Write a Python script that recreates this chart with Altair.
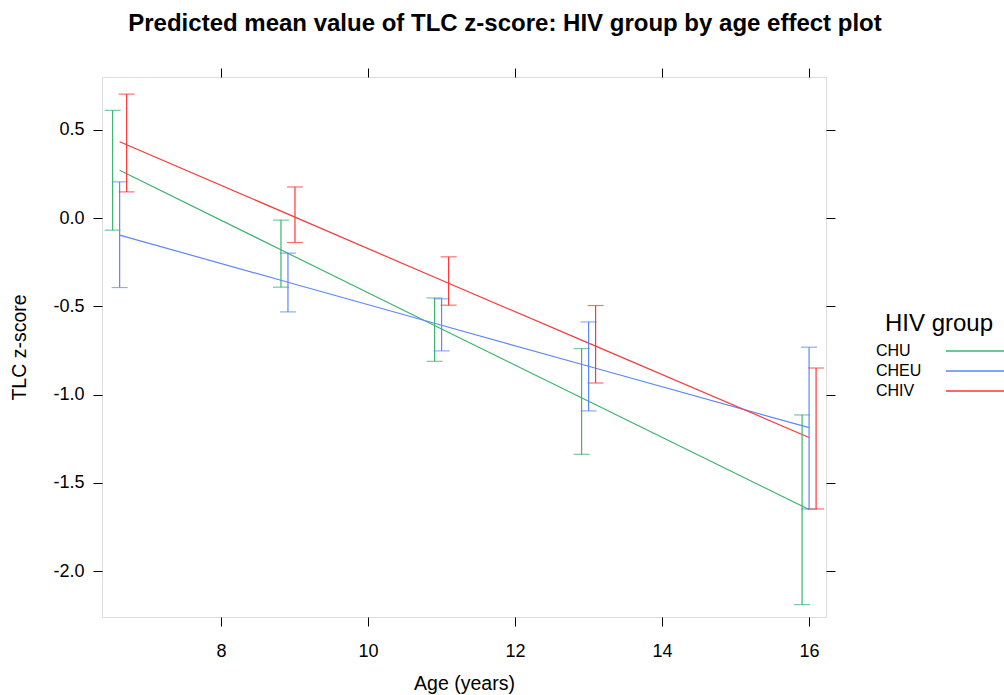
import altair as alt
import pandas as pd

groups = ["CHU", "CHEU", "CHIV"]
colors = ["#3cb46e", "#5c86ff", "#ff3636"]
ages = [6.62, 8.91, 11.0, 13.0, 16.0]

fit = {
    "CHU": [0.272, -0.199, -0.628, -1.037, -1.651],
    "CHEU": [-0.096, -0.363, -0.607, -0.839, -1.187],
    "CHIV": [0.433, 0.023, -0.352, -0.708, -1.243],
}
lower = {
    "CHU": [-0.068, -0.391, -0.811, -1.338, -2.190],
    "CHEU": [-0.393, -0.531, -0.752, -1.092, -1.648],
    "CHIV": [0.149, -0.138, -0.493, -0.934, -1.648],
}
upper = {
    "CHU": [0.611, -0.011, -0.452, -0.739, -1.115],
    "CHEU": [0.206, -0.198, -0.457, -0.588, -0.731],
    "CHIV": [0.703, 0.177, -0.219, -0.495, -0.849],
}
x_ticks = [8, 10, 12, 14, 16]
y_ticks = [0.5, 0.0, -0.5, -1.0, -1.5, -2.0]
dodge_px = {"CHU": -7, "CHEU": 0, "CHIV": 7}

rows = []
for g in groups:
    for i, a in enumerate(ages):
        rows.append({"group": g, "age": a, "fit": fit[g][i],
                     "lower": lower[g][i], "upper": upper[g][i]})
df = pd.DataFrame(rows)

xscale = alt.Scale(domain=[6.38, 16.23], nice=False, zero=False)
yscale = alt.Scale(domain=[-2.26, 0.80], nice=False, zero=False)
cscale = alt.Scale(domain=groups, range=colors)

FONT = "Liberation Sans"
axis_common = dict(domain=False, grid=False, ticks=True, tickSize=9,
                   tickColor="#000000", tickWidth=1,
                   labelFont=FONT, labelFontSize=18,
                   labelColor="#000000", titleFont=FONT,
                   titleFontSize=19.5, titleFontWeight="normal",
                   titleColor="#000000")

y_label_expr = ("datum.value < 0 ? '-' + format(-datum.value, '.1f') "
                ": format(datum.value, '.1f')")

x_bottom = alt.Axis(orient="bottom", values=x_ticks, format="d",
                    title="Age (years)", labelPadding=16, titlePadding=14,
                    **axis_common)
y_left = alt.Axis(orient="left", values=y_ticks, labelExpr=y_label_expr,
                  title="TLC z-score", labelPadding=9, titlePadding=23,
                  **axis_common)
x_top = alt.Axis(orient="top", values=x_ticks, labels=False, title=None,
                 **axis_common)
y_right = alt.Axis(orient="right", values=y_ticks, labels=False, title=None,
                   **axis_common)

base = alt.Chart(df)

lines = base.mark_line(strokeWidth=1.2, clip=True).encode(
    x=alt.X("age:Q", scale=xscale, axis=x_bottom),
    y=alt.Y("fit:Q", scale=yscale, axis=y_left),
    color=alt.Color(
        "group:N", scale=cscale, sort=groups,
        legend=alt.Legend(
            title="HIV group", orient="none", legendX=783, legendY=235,
            titleFont=FONT, titleFontSize=24,
            titleFontWeight="normal", titleColor="#000000",
            titlePadding=7, labelFont=FONT, labelFontSize=16,
            labelColor="#000000", symbolType="M10.6,0H22.2", symbolSize=100,
            symbolStrokeWidth=1.3, rowPadding=4, padding=0,
            labelOffset={"expr": "-25"},
        ),
    ),
)

layers = [lines]
first = True
for g in groups:
    sub = base.transform_filter(alt.datum.group == g)
    if first:
        xa, ya = x_top, y_right
        first = False
    else:
        xa, ya = None, None
    rule = sub.mark_rule(strokeWidth=1.2, xOffset=dodge_px[g]).encode(
        x=alt.X("age:Q", scale=xscale, axis=xa),
        y=alt.Y("lower:Q", scale=yscale, axis=ya),
        y2="upper:Q",
        color=alt.Color("group:N", scale=cscale, legend=None),
    )
    caps = sub.transform_fold(["lower", "upper"], as_=["bound", "val"]).mark_tick(
        orient="horizontal", size=16, thickness=1.2, xOffset=dodge_px[g]
    ).encode(
        x=alt.X("age:Q", scale=xscale, axis=None),
        y=alt.Y("val:Q", scale=yscale, axis=None),
        color=alt.Color("group:N", scale=cscale, legend=None),
    )
    layers += [rule, caps]

chart = alt.layer(*layers).resolve_axis(
    x="independent", y="independent"
).properties(
    width=724, height=540,
    autosize=alt.AutoSizeParams(type="none"),
    padding={"left": 102, "top": 77, "right": 178, "bottom": 78},
    title=alt.TitleParams(
        "Predicted mean value of TLC z-score: HIV group by age effect plot",
        font=FONT, fontSize=24, fontWeight="bold",
        color="#000000", anchor="middle", offset=32, dx=41,
    ),
).configure_view(
    stroke="#555555", strokeWidth=1.5
).configure(background="white")

chart.save("out.html", embed_options={"renderer": "svg", "actions": False})
